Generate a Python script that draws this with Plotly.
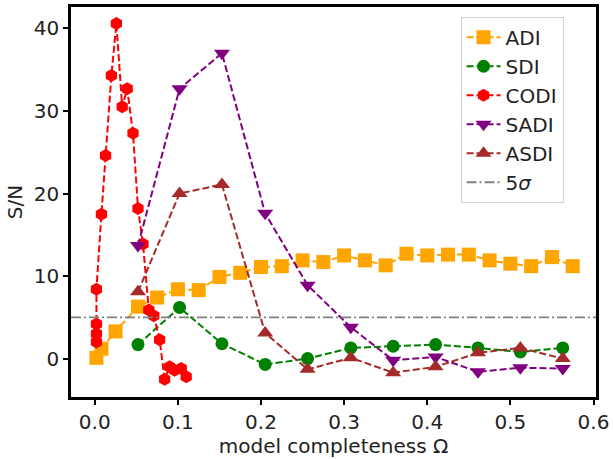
import plotly.graph_objects as go

# ---- data ----
adi_x = [0.002, 0.008, 0.025, 0.052, 0.075, 0.100, 0.125, 0.150, 0.175, 0.200, 0.225, 0.250, 0.275,
         0.300, 0.325, 0.350, 0.375, 0.400, 0.425, 0.450, 0.475, 0.500, 0.525, 0.550, 0.575]
adi_y = [0.1, 1.2, 3.3, 6.3, 7.4, 8.4, 8.3, 9.9, 10.4, 11.1, 11.2, 11.9, 11.7,
         12.5, 11.9, 11.3, 12.7, 12.5, 12.6, 12.6, 11.9, 11.5, 11.2, 12.3, 11.2]

sdi_x = [0.052, 0.102, 0.153, 0.205, 0.256, 0.308, 0.359, 0.410, 0.461, 0.512, 0.563]
sdi_y = [1.7, 6.2, 1.8, -0.7, 0.0, 1.3, 1.5, 1.7, 1.3, 0.8, 1.3]

codi_x = [0.002, 0.002, 0.002, 0.002, 0.008, 0.013, 0.020, 0.026, 0.033, 0.039, 0.046, 0.052,
          0.058, 0.065, 0.071, 0.078, 0.084, 0.090, 0.096, 0.104, 0.110]
codi_y = [2.0, 3.0, 4.2, 8.4, 17.5, 24.6, 34.3, 40.6, 30.5, 32.7, 27.3, 18.2,
          13.9, 5.9, 5.2, 2.3, -2.5, -1.0, -1.4, -1.2, -2.2]

sadi_x = [0.052, 0.102, 0.153, 0.205, 0.256, 0.308, 0.359, 0.410, 0.461, 0.512, 0.563]
sadi_y = [13.7, 32.7, 37.0, 17.6, 8.9, 3.8, -0.2, 0.2, -1.6, -1.1, -1.2]

asdi_x = [0.052, 0.102, 0.153, 0.205, 0.256, 0.308, 0.359, 0.410, 0.461, 0.512, 0.563]
asdi_y = [8.1, 20.0, 21.1, 3.1, -1.3, 0.1, -1.7, -1.0, 0.7, 1.3, 0.0]

sigma_level = 5.0
x_range = [-0.0286, 0.603]
y_range = [-4.65, 42.6]

FONT = "DejaVu Sans"
FS = 20
DASH = "7px,3px"

series = [
    ("ADI", adi_x, adi_y, "orange", "square", 14),
    ("SDI", sdi_x, sdi_y, "green", "circle", 13),
    ("CODI", codi_x, codi_y, "red", "hexagon", 13),
    ("SADI", sadi_x, sadi_y, "purple", "triangle-down", 14),
    ("ASDI", asdi_x, asdi_y, "brown", "triangle-up", 14),
]

fig = go.Figure()
for name, xs, ys, col, sym, sz in series:
    fig.add_trace(go.Scatter(
        x=xs, y=ys, name=name, mode="lines+markers", legendgroup=name,
        line=dict(color=col, width=2, dash=DASH),
        marker=dict(color=col, symbol=sym, size=sz, line=dict(width=0)),
    ))

fig.add_trace(go.Scatter(
    x=x_range, y=[sigma_level, sigma_level], name="5<i>σ</i>", mode="lines",
    legendgroup="sigma",
    line=dict(color="gray", width=1.8, dash="10px,3px,2px,3px"),
))

axis_common = dict(
    showline=True, linecolor="black", linewidth=2.5, mirror=True,
    ticks="outside", ticklen=5, tickwidth=1.5, tickcolor="black",
    showgrid=False, zeroline=False,
    tickfont=dict(family=FONT, size=FS, color="#222"),
)

fig.update_layout(
    width=613, height=459,
    margin=dict(l=71, r=14, t=4, b=62),
    paper_bgcolor="white", plot_bgcolor="white",
    font=dict(family=FONT, size=FS, color="#222"),
    xaxis=dict(range=x_range, tickvals=[0.0, 0.1, 0.2, 0.3, 0.4, 0.5, 0.6],
               ticktext=["0.0", "0.1", "0.2", "0.3", "0.4", "0.5", "0.6"],
               title=dict(text="model completeness Ω", font=dict(size=FS), standoff=4),
               **axis_common),
    yaxis=dict(range=y_range, tickvals=[0, 10, 20, 30, 40],
               title=dict(text="S/N", font=dict(size=FS), standoff=6),
               **axis_common),
    legend=dict(x=0.742, y=0.975, xanchor="left", yanchor="top",
                bgcolor="rgba(255,255,255,0.8)", bordercolor="#d0d0d0", borderwidth=1,
                font=dict(family=FONT, size=FS, color="#222"),
                itemwidth=34, tracegroupgap=0, traceorder="grouped"),
    showlegend=True,
)

fig.write_html("out.html")
